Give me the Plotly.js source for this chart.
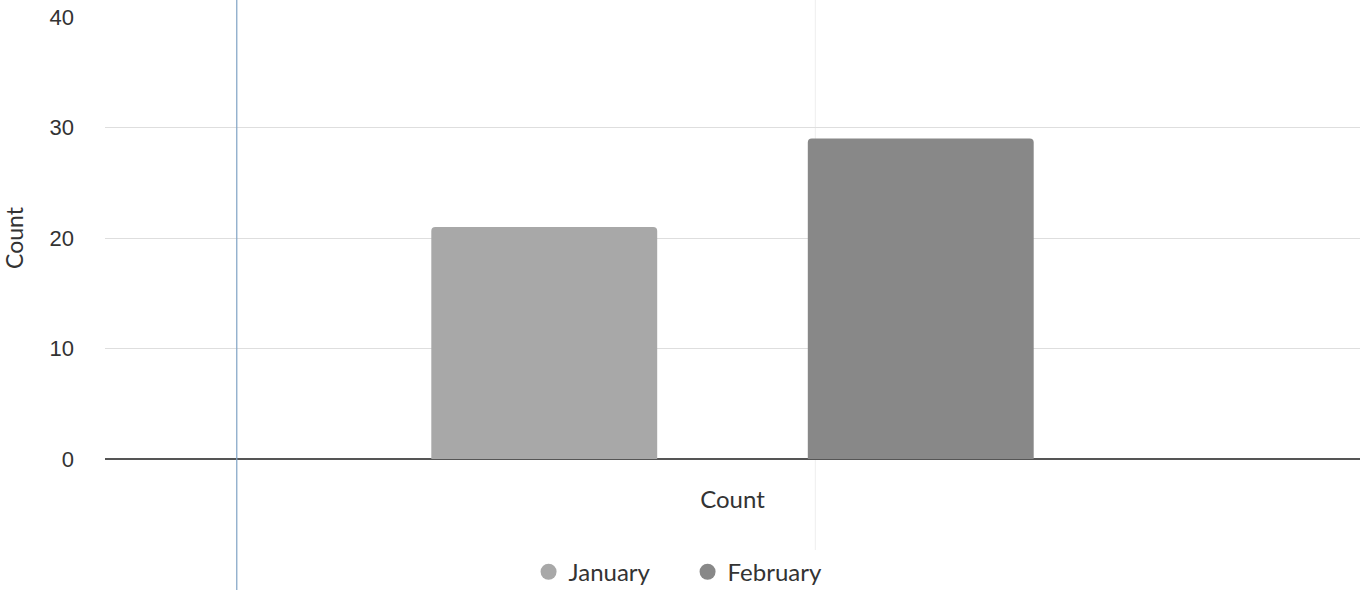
<!DOCTYPE html>
<html>
<head>
<meta charset="utf-8">
<script src="https://cdn.plot.ly/plotly-3.0.1.min.js"></script>
<style>html,body{margin:0;padding:0;background:#fff;}#chart{width:1362px;height:590px;}</style>
</head>
<body>
<div id="chart"></div>
<script>
const categories = ["Count"];
const seriesNames = ["January", "February"];
const januaryValues = [21];
const februaryValues = [29];
const yTickValues = [0, 10, 20, 30, 40];
const yTickLabels = ["0", "10", "20", "30", "40"];
const seriesColors = ["#a8a8a8", "#888888"];

const seriesValues = [januaryValues, februaryValues];
const traces = [];
seriesNames.forEach((name, i) => {
  traces.push({
    type: "bar", name: name, x: categories, y: seriesValues[i],
    marker: {color: seriesColors[i], cornerradius: 4},
    showlegend: false, hoverinfo: "y"
  });
});
seriesNames.forEach((name, i) => {
  traces.push({
    type: "scatter", mode: "markers", name: name, x: [null], y: [null],
    marker: {color: seriesColors[i], symbol: "circle", size: 18},
    showlegend: true
  });
});

const layout = {
  width: 1362, height: 590,
  margin: {l: 105, r: 2, t: 17, b: 131, autoexpand: false},
  paper_bgcolor: "#fff", plot_bgcolor: "#fff",
  font: {family: "Lato, 'Open Sans', sans-serif", color: "#333", size: 23},
  barmode: "group", bargap: 0.4, bargroupgap: 0.4,
  xaxis: {
    type: "category", showgrid: false, zeroline: false, showline: false, automargin: false,
    ticks: "", ticklabelstandoff: 24, tickfont: {size: 24, color: "#333"}
  },
  yaxis: {
    range: [0, 40], tickvals: yTickValues, ticktext: yTickLabels, automargin: false,
    showgrid: true, gridcolor: "#dedede", gridwidth: 1,
    zeroline: true, zerolinecolor: "#555", zerolinewidth: 2,
    showline: false, ticks: "", ticklabelstandoff: 30,
    tickfont: {family: "'Liberation Sans', Arial, sans-serif", size: 22, color: "#333"},
    title: {text: "Count", standoff: 26, font: {size: 23, color: "#333"}}
  },
  legend: {
    orientation: "h", x: 0.4642, xanchor: "center", y: -0.256, yanchor: "middle",
    font: {size: 24, color: "#333"}, itemsizing: "trace",
    entrywidth: 114, entrywidthmode: "pixels"
  },
  shapes: [
    {type: "line", xref: "paper", yref: "paper", x0: 0.105, x1: 0.105, y0: -0.3, y1: 1.05,
     line: {color: "#7fa3c4", width: 1.2}, layer: "above"},
    {type: "line", xref: "paper", yref: "paper", x0: 0.566, x1: 0.566, y0: -0.3, y1: 1.05,
     line: {color: "#eeeeee", width: 1}, layer: "below"}
  ],
  showlegend: true
};

Plotly.newPlot("chart", traces, layout, {displayModeBar: false, staticPlot: true});
</script>
</body>
</html>
